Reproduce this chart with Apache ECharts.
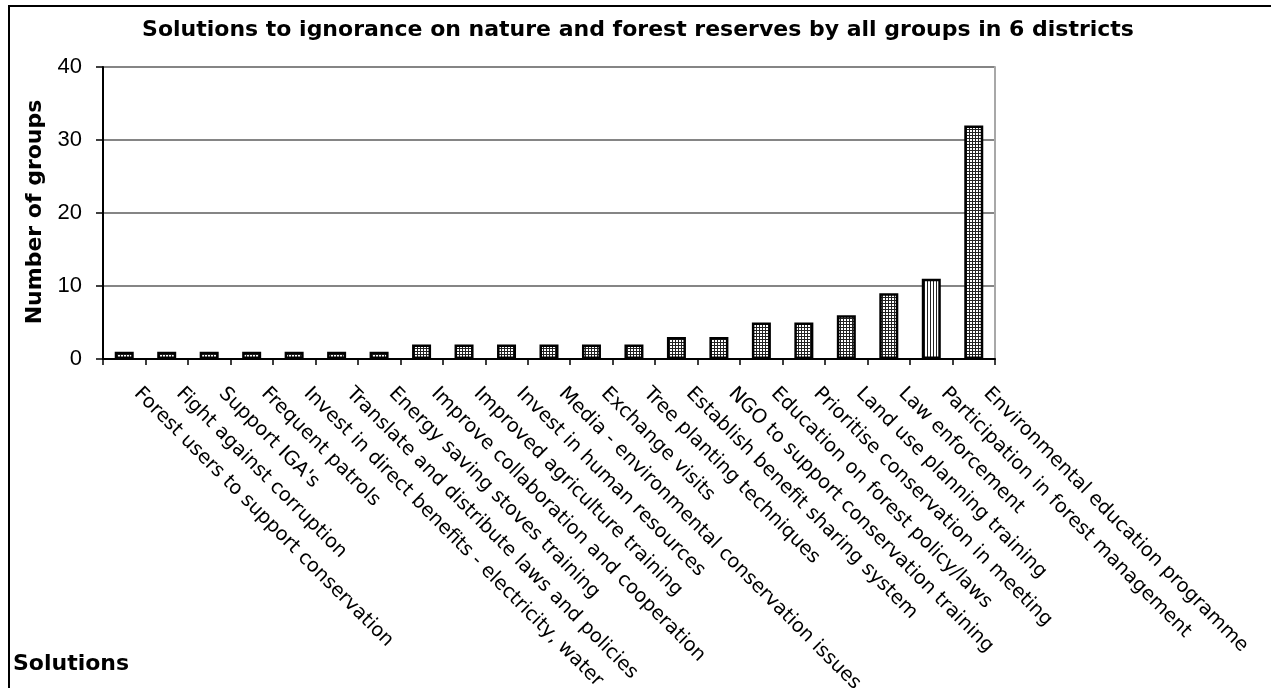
<!DOCTYPE html>
<html>
<head>
<meta charset="utf-8">
<script src="https://cdn.jsdelivr.net/npm/echarts@6/dist/echarts.min.js"></script>
<style>
  html, body { margin: 0; padding: 0; background: #fff; }
  #chart { width: 1271px; height: 688px; }
</style>
</head>
<body>
<div id="chart"></div>
<script>
// Solutions named by the groups, in ascending order of how many groups named them
const solutions = [
  'Forest users to support conservation',
  'Fight against corruption',
  "Support IGA's",
  'Frequent patrols',
  'Invest in direct benefits - electricity, water',
  'Translate and distribute laws and policies',
  'Energy saving stoves training',
  'Improve collaboration and cooperation',
  'Improved agriculture training',
  'Invest in human resources',
  'Media - environmental conservation issues',
  'Exchange visits',
  'Tree planting techniques',
  'Establish benefit sharing system',
  'NGO to support conservation training',
  'Education on forest policy/laws',
  'Prioritise conservation in meeting',
  'Land use planning training',
  'Law enforcement',
  'Participation in forest management',
  'Environmental education programme'
];

// Number of groups naming each solution
const groupCounts = [1, 1, 1, 1, 1, 1, 1, 2, 2, 2, 2, 2, 2, 3, 3, 5, 5, 6, 9, 11, 32];

// Value axis range and step
const yMin = 0;
const yMax = 40;
const yStep = 10;

const chartTitle = 'Solutions to ignorance on nature and forest reserves by all groups in 6 districts';
const yTitle = 'Number of groups';
const xTitle = 'Solutions';

// Bar fills: a fine cross-hatch, and vertical stripes for the one highlighted solution
const stripedSolution = 'Participation in forest management';

function makeHatch(withHorizontal) {
  const c = document.createElement('canvas');
  c.width = 3;
  c.height = 3;
  const g = c.getContext('2d');
  g.fillStyle = '#ffffff';
  g.fillRect(0, 0, 3, 3);
  g.fillStyle = '#222222';
  g.fillRect(0, 0, 1, 3);
  if (withHorizontal) g.fillRect(0, 0, 3, 1);
  return c;
}
const gridFill = { image: makeHatch(true), repeat: 'repeat' };
const stripeFill = { image: makeHatch(false), repeat: 'repeat' };

const barData = groupCounts.map((v, i) => ({
  value: v,
  itemStyle: { color: solutions[i] === stripedSolution ? stripeFill : gridFill }
}));

const chart = echarts.init(document.getElementById('chart'), null, { renderer: 'canvas' });

chart.setOption({
  backgroundColor: '#ffffff',
  animation: false,
  grid: {
    left: 103, top: 67, width: 892, height: 292,
    containLabel: false,
    outerBoundsMode: 'none'
  },
  xAxis: {
    type: 'category',
    data: solutions,
    axisLine: { show: true, lineStyle: { color: '#000', width: 2 } },
    axisTick: { show: true, interval: 0, length: 6, lineStyle: { color: '#000', width: 1.5 } },
    axisLabel: {
      interval: 0,
      rotate: -45,
      margin: 19,
      padding: [0, 0, 0, 18],
      color: '#000',
      fontFamily: 'DejaVu Sans',
      fontSize: 19.5
    },
    splitLine: { show: false }
  },
  yAxis: [
    {
      type: 'value',
      min: yMin,
      max: yMax,
      interval: yStep,
      axisLine: { show: true, lineStyle: { color: '#000', width: 2 } },
      axisTick: { show: true, length: 7, lineStyle: { color: '#000', width: 1.5 } },
      axisLabel: { margin: 21, color: '#000', fontFamily: 'Liberation Sans', fontSize: 22 },
      splitLine: { show: true, lineStyle: { color: '#858585', width: 2 } }
    },
    {
      type: 'value',
      position: 'right',
      min: yMin,
      max: yMax,
      interval: yStep,
      axisLine: { show: true, lineStyle: { color: '#a8a8a8', width: 2 } },
      axisTick: { show: false },
      axisLabel: { show: false },
      splitLine: { show: false }
    }
  ],
  series: [{
    type: 'bar',
    data: barData,
    barWidth: 19,
    itemStyle: { borderColor: '#000', borderWidth: 2.5 },
    z: 3
  }],
  graphic: [
    {
      type: 'rect',
      silent: true,
      z: -10,
      shape: { x: 9, y: 6, width: 1400, height: 900 },
      style: { fill: 'none', stroke: '#000', lineWidth: 2 }
    },
    {
      type: 'text',
      x: 638,
      y: 30,
      style: {
        text: chartTitle,
        fontFamily: 'DejaVu Sans',
        fontWeight: 'bold',
        fontSize: 22,
        fill: '#000',
        align: 'center',
        verticalAlign: 'middle'
      }
    },
    {
      type: 'text',
      x: 35,
      y: 212,
      rotation: Math.PI / 2,
      style: {
        text: yTitle,
        fontFamily: 'DejaVu Sans',
        fontWeight: 'bold',
        fontSize: 22,
        fill: '#000',
        align: 'center',
        verticalAlign: 'middle'
      }
    },
    {
      type: 'text',
      x: 13,
      y: 664,
      style: {
        text: xTitle,
        fontFamily: 'DejaVu Sans',
        fontWeight: 'bold',
        fontSize: 22,
        fill: '#000',
        align: 'left',
        verticalAlign: 'middle'
      }
    }
  ]
});
</script>
</body>
</html>
